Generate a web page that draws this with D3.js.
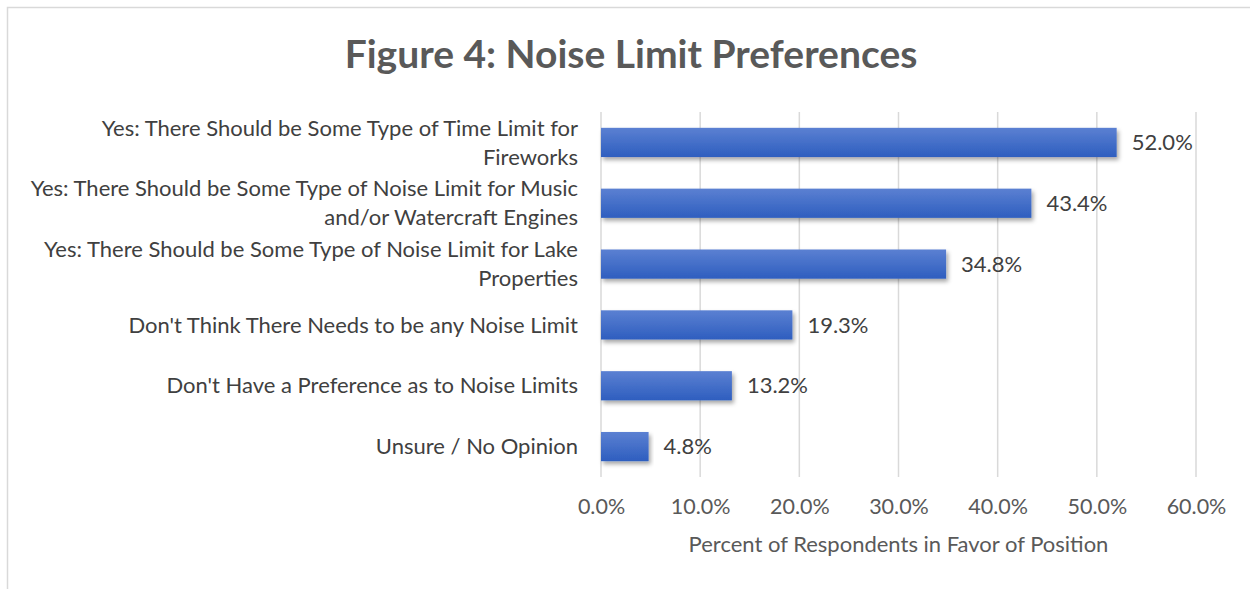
<!DOCTYPE html>
<meta charset="utf-8">
<script src="https://d3js.org/d3.v7.min.js"></script>
<style>
  body { margin: 0; background: #fff; }
  text { font-family: Lato, "Open Sans", sans-serif; }
</style>
<div id="chart"></div>
<script>

// categories, split into the lines they are shown on
var categories = [
  ["Yes: There Should be Some Type of Time Limit for", "Fireworks"],
  ["Yes: There Should be Some Type of Noise Limit for Music", "and/or Watercraft Engines"],
  ["Yes: There Should be Some Type of Noise Limit for Lake", "Properties"],
  ["Don't Think There Needs to be any Noise Limit"],
  ["Don't Have a Preference as to Noise Limits"],
  ["Unsure / No Opinion"]
];
var values = [52.0, 43.4, 34.8, 19.3, 13.2, 4.8];
var ticks = [0, 10, 20, 30, 40, 50, 60];

var width = 1250, height = 589;
var margin = {top: 112, left: 601, right: 54, bottom: 112};
var fs = 22;

var svg = d3.select("#chart").append("svg")
  .attr("width", width)
  .attr("height", height);

// outer frame
svg.append("rect")
  .attr("x", 7.5).attr("y", 7.5)
  .attr("width", width).attr("height", height)
  .attr("fill", "none")
  .attr("stroke", "#d9d9d9")
  .attr("stroke-width", 1.5);

var defs = svg.append("defs");
var grad = defs.append("linearGradient")
  .attr("id", "barGrad")
  .attr("x1", 0).attr("y1", 0).attr("x2", 0).attr("y2", 1);
grad.append("stop").attr("offset", "0%").attr("stop-color", "#5b80d2");
grad.append("stop").attr("offset", "100%").attr("stop-color", "#2e5ebf");

var shadow = defs.append("filter").attr("id", "shadow")
  .attr("x", "-5%").attr("y", "-20%").attr("width", "115%").attr("height", "160%");
shadow.append("feDropShadow")
  .attr("dx", 2).attr("dy", 3).attr("stdDeviation", 2)
  .attr("flood-color", "#000").attr("flood-opacity", 0.35);

var x = d3.scaleLinear()
  .domain([0, 60])
  .range([margin.left, width - margin.right]);

var y = d3.scaleBand()
  .domain(d3.range(categories.length))
  .range([margin.top, 477])
  .paddingInner(0.52)
  .paddingOuter(0.26);

// title
svg.append("text")
  .attr("x", 631)
  .attr("y", 68)
  .attr("text-anchor", "middle")
  .style("font-size", "39px")
  .style("font-weight", "bold")
  .style("fill", "#595959")
  .text("Figure 4: Noise Limit Preferences");

// gridlines
svg.append("g")
  .selectAll("line")
  .data(ticks)
  .join("line")
    .attr("x1", function(d) { return x(d); })
    .attr("x2", function(d) { return x(d); })
    .attr("y1", margin.top)
    .attr("y2", 477)
    .attr("stroke", "#d9d9d9")
    .attr("stroke-width", 1.5);

// x axis tick labels
var xAxis = svg.append("g")
  .attr("transform", "translate(0,477)")
  .call(d3.axisBottom(x).tickValues(ticks).tickSize(0).tickPadding(22)
    .tickFormat(function(d) { return d.toFixed(1) + "%"; }));
xAxis.select(".domain").remove();
xAxis.selectAll("text")
  .style("font-size", "21.5px")
  .style("fill", "#595959")
  .style("font-family", "Lato, sans-serif");

// bars
svg.append("g")
  .selectAll("rect")
  .data(values)
  .join("rect")
    .attr("x", x(0))
    .attr("y", function(d, i) { return y(i); })
    .attr("width", function(d) { return x(d) - x(0); })
    .attr("height", y.bandwidth())
    .attr("fill", "url(#barGrad)")
    .attr("filter", "url(#shadow)");

// value labels
svg.append("g")
  .selectAll("text")
  .data(values)
  .join("text")
    .attr("x", function(d) { return x(d) + 15; })
    .attr("y", function(d, i) { return y(i) + y.bandwidth() / 2; })
    .attr("dy", "0.35em")
    .style("font-size", fs + "px")
    .style("fill", "#404040")
    .text(function(d) { return d.toFixed(1) + "%"; });

// category labels
var lineH = 29;
svg.append("g")
  .selectAll("text")
  .data(categories)
  .join("text")
    .attr("text-anchor", "end")
    .attr("y", function(d, i) { return y(i) + y.bandwidth() / 2; })
    .style("font-size", fs + "px")
    .style("fill", "#404040")
    .each(function(d) {
      var t = d3.select(this);
      var off = -(d.length - 1) * lineH / 2;
      d.forEach(function(line, k) {
        t.append("tspan")
          .attr("x", 578)
          .attr("dy", k === 0 ? (off / fs + 0.35) + "em" : lineH + "px")
          .text(line);
      });
    });

// axis title
svg.append("text")
  .attr("x", x(30))
  .attr("y", 552)
  .attr("text-anchor", "middle")
  .style("font-size", fs + "px")
  .style("fill", "#595959")
  .text("Percent of Respondents in Favor of Position");

</script>
